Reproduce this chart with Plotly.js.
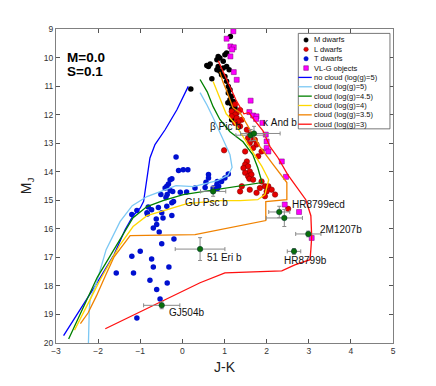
<!DOCTYPE html>
<html>
<head>
<meta charset="utf-8">
<script src="https://cdn.plot.ly/plotly-3.0.1.min.js"></script>
<style>body{margin:0;} #chart{width:436px;height:386px;}</style>
</head>
<body>
<div id="chart"></div>
<script>
// field objects: J-K colour and absolute J magnitude
var mDwarfX = [0.20, 1.14, 0.85, 0.82, 0.66, 0.62, 0.89, 1.01, 1.05, 0.97, 0.85, 0.82, 0.89, 0.97, 1.05, 1.11, 0.93, 1.01, 0.70, 1.05, 1.09, 1.13, 1.09, 1.17, 1.13, 1.21, 1.17, 1.08, 1.25, 1.17, 1.17, 0.58];
var mDwarfY = [11.10, 9.26, 9.96, 10.08, 10.23, 10.31, 10.02, 9.90, 9.84, 10.13, 10.31, 10.43, 10.48, 10.37, 10.31, 10.43, 10.60, 10.66, 10.74, 10.83, 11.01, 11.13, 11.24, 11.36, 11.48, 11.54, 11.64, 11.58, 11.77, 11.82, 12.18, 10.28];

var lDwarfX = [1.25, 1.17, 1.29, 1.37, 1.25, 1.17, 1.29, 1.41, 1.33, 1.25, 1.37, 1.53, 1.60, 1.56, 1.64, 1.60, 1.72, 1.76, 1.68, 0.99, 1.49, 1.88, 1.80, 1.53, 1.49, 1.56, 1.45, 1.60, 1.49, 1.56, 1.64, 1.59, 1.68, 1.88, 1.96, 2.04, 2.12, 2.00, 2.20, 1.60, 1.37, 1.76, 1.41, 1.84, 1.96, 2.51];
var lDwarfY = [11.64, 11.89, 11.94, 11.84, 12.00, 12.06, 12.12, 12.18, 12.24, 12.29, 12.41, 12.53, 12.70, 12.82, 12.88, 12.99, 12.88, 13.05, 13.17, 13.25, 13.29, 13.29, 13.46, 13.64, 13.75, 13.81, 13.87, 13.99, 14.04, 14.16, 14.10, 14.25, 14.28, 14.34, 14.51, 14.51, 14.63, 14.69, 14.80, 14.63, 14.69, 14.74, 14.51, 14.57, 14.86, 15.30];

var tDwarfX = [-0.15, -0.09, 0.02, 0.13, -0.25, -0.29, -0.33, -0.37, -0.41, -0.29, -0.23, -0.51, -0.36, -0.39, -0.05, 0.10, -0.25, -0.21, -0.37, -0.57, -0.73, -0.81, -0.83, -0.49, -0.62, -0.46, -0.25, -0.69, -0.61, -0.55, -1.20, -1.08, -0.49, -0.20, -0.84, 0.30, 0.56, 0.62, 0.83, 0.73, 0.83, 1.09, 1.01, 0.93, 0.82, 0.54, 0.78, 0.86, 0.73, 0.62, -1.20, -1.00, -0.73, -0.69, -0.32, -1.57, -1.16, -0.77, -0.36, -0.61, -0.53, -1.08];
var tDwarfY = [13.48, 13.96, 13.93, 13.93, 14.25, 14.28, 14.43, 14.51, 14.57, 14.66, 14.69, 14.80, 14.80, 14.90, 14.72, 14.71, 15.09, 15.04, 15.21, 15.25, 15.33, 15.24, 15.48, 15.44, 15.66, 15.62, 15.53, 15.97, 15.85, 16.11, 15.50, 15.36, 16.52, 16.36, 15.44, 14.57, 14.37, 14.10, 14.34, 14.57, 14.60, 14.08, 14.22, 14.34, 14.45, 14.55, 14.57, 14.51, 14.66, 14.22, 16.96, 16.79, 17.06, 17.34, 17.34, 17.55, 17.55, 17.80, 17.90, 18.13, 18.46, 19.12];

var vlgX = [1.21, 1.05, 1.14, 1.22, 1.18, 1.14, 1.22, 1.29, 1.62, 1.59, 1.68, 1.76, 1.75, 1.90, 1.98, 2.00, 2.00, 2.04, 2.36, 2.46, 2.43, 2.77, 3.07];
var vlgY = [9.08, 9.34, 9.61, 9.64, 9.72, 9.96, 10.51, 10.78, 11.51, 11.91, 12.03, 12.06, 12.15, 12.29, 12.70, 12.94, 13.17, 13.29, 13.64, 14.18, 15.15, 15.41, 16.32];

// companions with error bars
var compNames = ['β Pic b', 'κ And b', 'GU Psc b', 'HR8799ecd', '', '2M1207b', 'HR8799b', '51 Eri b', 'GJ504b'];
var compX = [1.62, 1.70, 0.73, 2.30, 2.42, 2.99, 2.65, 0.42, -0.49];
var compY = [12.72, 12.66, 14.69, 15.41, 15.62, 16.18, 16.79, 16.71, 18.68];
var compXerrPlus = [0.35, 0.62, 0.30, 0.25, 0.43, 0.30, 0.16, 0.59, 0.43];
var compXerrMinus = [0.35, 0.32, 0.30, 0.25, 0.43, 0.30, 0.16, 0.59, 0.43];
var compYerr = [0.20, 0.25, 0.17, 0.20, 0.30, 0.10, 0.10, 0.40, 0.12];
var labelX = [0.61, 1.87, 0.02, 2.55, 0, 3.22, 2.36, 0.54, -0.37];
var labelY = [12.41, 12.29, 15.07, 15.15, 0, 16.03, 17.12, 17.02, 18.93];

// model tracks
var noCloud5X = [-2.82, -2.45, -2.07, -1.62, -1.36, -1.17, -1.00, -0.92, -0.84, -0.77, -0.65, -0.41, -0.13, 0.06, 0.14];
var noCloud5Y = [19.74, 18.90, 18.00, 16.90, 16.03, 15.54, 15.27, 15.04, 14.22, 13.52, 13.05, 12.53, 11.83, 11.24, 11.01];
var cloud5X = [0.42, 0.59, 0.75, 0.94, 1.13, 1.18, 1.08, 0.83, 0.54, 0.26, -0.15, -0.53, -0.84, -1.19, -1.48, -1.81, -2.04, -2.19, -2.21, -2.23];
var cloud5Y = [11.23, 11.68, 12.17, 12.77, 13.40, 13.85, 14.13, 14.31, 14.42, 14.52, 14.49, 14.70, 14.87, 15.19, 15.75, 16.73, 17.90, 18.48, 18.83, 20.00];
var cloud45X = [0.42, 0.59, 0.73, 0.89, 1.13, 1.44, 1.67, 1.79, 1.89, 1.41, 0.94, 0.42, 0.02, -0.46, -0.84, -1.17, -1.48, -2.02, -2.70];
var cloud45Y = [10.77, 11.20, 11.72, 12.17, 12.60, 12.95, 13.40, 13.86, 14.38, 14.49, 14.59, 14.70, 14.80, 15.01, 15.22, 15.61, 16.38, 17.70, 19.86];
var cloud4X = [0.73, 0.83, 0.92, 1.04, 1.23, 1.44, 1.68, 1.89, 2.05, 1.96, 1.79, 1.37, 0.89, 0.56, 0.11, -0.36, -0.84, -1.17, -1.48, -1.95, -2.56];
var cloud4Y = [10.84, 11.20, 11.55, 11.97, 12.28, 12.77, 13.33, 13.82, 14.28, 14.80, 14.98, 15.01, 15.01, 15.05, 15.12, 15.33, 15.54, 15.92, 16.56, 17.78, 19.55];
var cloud35X = [0.89, 0.96, 1.06, 1.20, 1.37, 1.60, 1.84, 2.12, 2.38, 2.48, 2.48, 1.98, 1.98, 0.30, -1.24, -1.62, -1.83, -2.04, -2.24, -2.42];
var cloud35Y = [10.50, 10.85, 11.20, 11.76, 11.93, 12.53, 13.12, 13.68, 14.17, 14.38, 14.98, 15.05, 15.71, 16.20, 16.24, 16.98, 17.65, 18.35, 18.95, 19.32];
var cloud3X = [0.85, 1.06, 1.27, 1.46, 1.58, 1.68, 1.91, 2.08, 2.27, 2.50, 2.72, 2.93, 3.05, 3.07, 3.05, 3.03, 2.67, 2.36, 1.01, 0.42, -1.83];
var cloud3Y = [10.11, 10.78, 11.48, 11.97, 11.93, 12.14, 12.56, 13.12, 13.51, 14.10, 14.56, 14.98, 15.54, 16.28, 16.73, 17.08, 17.26, 17.47, 17.54, 17.89, 19.50];

var modelNames = ['no cloud (log(g)=5)', 'cloud (log(g)=5)', 'cloud (log(g)=4.5)', 'cloud (log(g)=4)', 'cloud (log(g)=3.5)', 'cloud (log(g)=3)'];
var modelColors = ['#0000ff', '#7cc8f4', '#008000', '#ffd800', '#f08200', '#ff1010'];
var modelX = [noCloud5X, cloud5X, cloud45X, cloud4X, cloud35X, cloud3X];
var modelY = [noCloud5Y, cloud5Y, cloud45Y, cloud4Y, cloud35Y, cloud3Y];

var data = [];
data.push({x: mDwarfX, y: mDwarfY, mode: 'markers', name: 'M dwarfs', showlegend: false,
  marker: {color: '#000000', size: 5.5}});
data.push({x: lDwarfX, y: lDwarfY, mode: 'markers', name: 'L dwarfs', showlegend: false,
  marker: {color: '#e60000', size: 5.5, line: {color: '#700000', width: 0.5}}});
data.push({x: tDwarfX, y: tDwarfY, mode: 'markers', name: 'T dwarfs', showlegend: false,
  marker: {color: '#0010d0', size: 5.5}});
data.push({x: vlgX, y: vlgY, mode: 'markers', name: 'VL-G objects', showlegend: false,
  marker: {color: '#ff00ff', size: 5, symbol: 'square', line: {color: '#700070', width: 0.5}}});
for (var i = 0; i < modelNames.length; i++) {
  data.push({x: modelX[i], y: modelY[i], mode: 'lines', name: modelNames[i], showlegend: false,
    line: {color: modelColors[i], width: 1.3}});
}
data.push({x: compX, y: compY, mode: 'markers', name: 'companions', showlegend: false,
  marker: {color: '#0a6e0a', size: 5.5, line: {color: '#033', width: 0.5}},
  error_x: {type: 'data', symmetric: false, array: compXerrPlus, arrayminus: compXerrMinus, color: '#8a8a8a', thickness: 1, width: 2},
  error_y: {type: 'data', array: compYerr, color: '#8a8a8a', thickness: 1, width: 2}});

var font = 'Liberation Sans, Arial, sans-serif';
var annotations = [];
for (var j = 0; j < compNames.length; j++) {
  if (!compNames[j]) continue;
  annotations.push({x: labelX[j], y: labelY[j], xref: 'x', yref: 'y', text: compNames[j], showarrow: false,
    xanchor: 'left', yanchor: 'middle', font: {family: font, size: 10, color: '#111'}});
}
annotations.push({x: 0.027, y: 0.91, xref: 'paper', yref: 'paper', text: '<b>M=0.0</b>', showarrow: false,
  xanchor: 'left', yanchor: 'middle', font: {family: font, size: 13.5, color: '#000'}});
annotations.push({x: 0.027, y: 0.864, xref: 'paper', yref: 'paper', text: '<b>S=0.1</b>', showarrow: false,
  xanchor: 'left', yanchor: 'middle', font: {family: font, size: 13.5, color: '#000'}});

// hand-built legend box (Plotly legend rows are too tall for this size)
var legendNames = ['M dwarfs', 'L dwarfs', 'T dwarfs', 'VL-G objects'].concat(modelNames);
var dotColors = ['#000000', '#e60000', '#0010d0'];
var shapes = [{type: 'rect', xref: 'paper', yref: 'paper', x0: 0.719, x1: 0.991, y0: 0.682, y1: 0.986,
  line: {color: '#555', width: 0.8}, fillcolor: '#ffffff'}];
for (var k = 0; k < legendNames.length; k++) {
  var ly = 0.965 - k * 0.0298;
  if (k < 3) {
    shapes.push({type: 'circle', xref: 'paper', yref: 'paper', xsizemode: 'pixel', ysizemode: 'pixel',
      xanchor: 0.742, yanchor: ly, x0: -2.2, x1: 2.2, y0: -2.2, y1: 2.2,
      fillcolor: dotColors[k], line: {color: k === 1 ? '#700000' : dotColors[k], width: 0.5}});
  } else if (k === 3) {
    shapes.push({type: 'rect', xref: 'paper', yref: 'paper', xsizemode: 'pixel', ysizemode: 'pixel',
      xanchor: 0.742, yanchor: ly, x0: -2.3, x1: 2.3, y0: -2.3, y1: 2.3,
      fillcolor: '#ff00ff', line: {color: '#700070', width: 0.5}});
  } else {
    shapes.push({type: 'line', xref: 'paper', yref: 'paper', x0: 0.719, x1: 0.759, y0: ly, y1: ly,
      line: {color: modelColors[k - 4], width: 1.3}});
  }
  annotations.push({x: 0.761, y: ly, xref: 'paper', yref: 'paper', text: legendNames[k], showarrow: false,
    xanchor: 'left', yanchor: 'middle', font: {family: font, size: 7.5, color: '#111'}});
}

var axisCommon = {
  dtick: 1, ticks: 'inside', ticklen: 4, tickcolor: '#555', tickwidth: 1,
  showline: true, linecolor: '#808080', linewidth: 1, mirror: 'ticks',
  showgrid: false, zeroline: false,
  tickfont: {family: font, size: 8.5, color: '#333'}
};

var layout = {
  width: 436, height: 386,
  margin: {l: 56, r: 43, t: 29, b: 43},
  paper_bgcolor: '#ffffff', plot_bgcolor: '#ffffff',
  showlegend: false,
  xaxis: Object.assign({}, axisCommon, {range: [-3, 5], title: {text: 'J-K', font: {family: font, size: 14, color: '#222'}, standoff: 6}}),
  yaxis: Object.assign({}, axisCommon, {range: [20, 9], title: {text: 'M<sub>J</sub>', font: {family: font, size: 14, color: '#222'}, standoff: 8}}),
  annotations: annotations,
  shapes: shapes
};

Plotly.newPlot('chart', data, layout, {displayModeBar: false, staticPlot: true});
</script>
</body>
</html>
